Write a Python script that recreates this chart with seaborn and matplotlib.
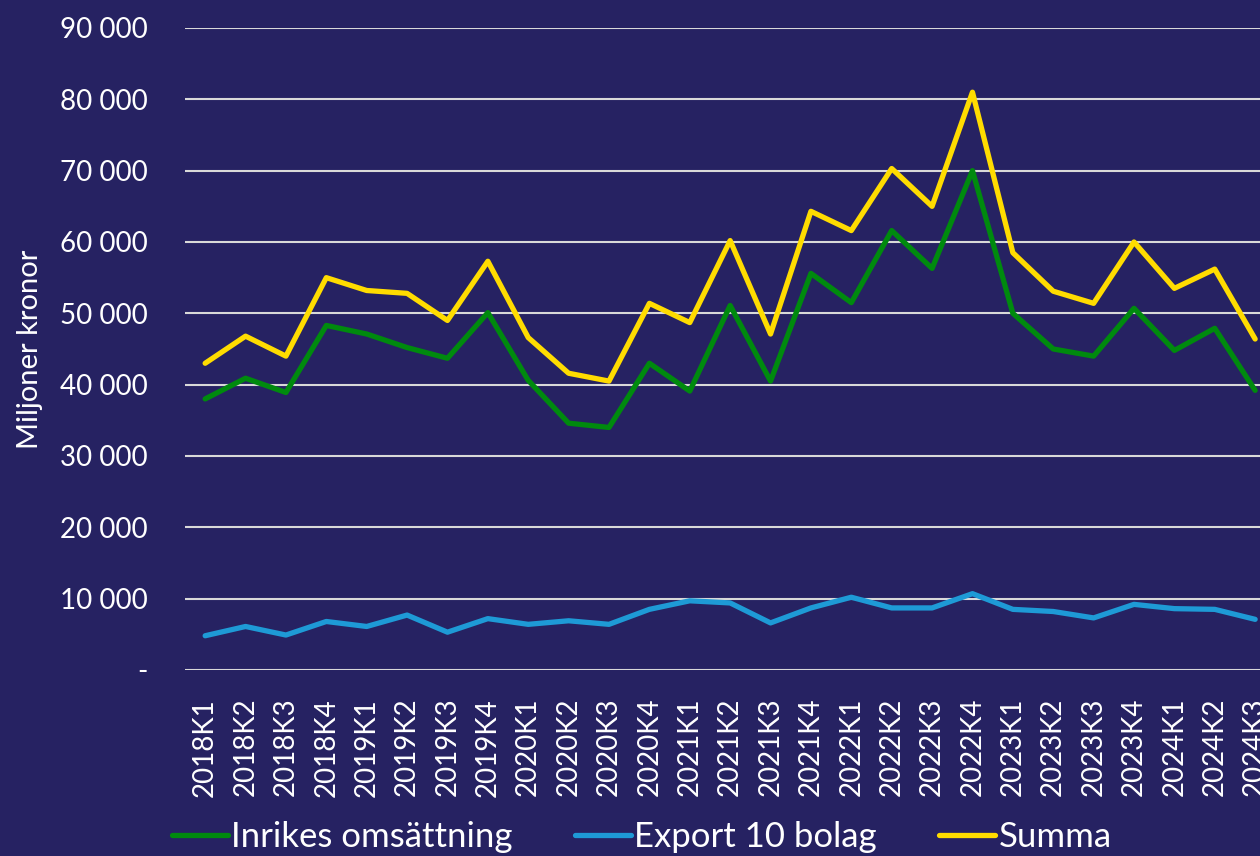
import pandas as pd
import matplotlib.pyplot as plt
import matplotlib.ticker as mticker
import seaborn as sns

quarters = [f"{y}K{q}" for y in range(2018, 2025) for q in range(1, 5)][:27]

inrikes = [38000, 40900, 38900, 48300, 47100, 45200, 43700, 50100, 40600, 34600,
           34000, 43000, 39100, 51100, 40500, 55600, 51500, 61600, 56300, 70000,
           50000, 45000, 44000, 50700, 44800, 47900, 39200]
export = [4800, 6100, 4900, 6800, 6100, 7700, 5300, 7200, 6400, 6900,
          6400, 8500, 9700, 9400, 6600, 8700, 10200, 8700, 8700, 10700,
          8500, 8200, 7300, 9200, 8600, 8500, 7100]
summa = [43000, 46800, 44000, 55000, 53200, 52800, 49000, 57300, 46600, 41600,
         40500, 51400, 48700, 60200, 47100, 64300, 61600, 70300, 65000, 81000,
         58500, 53100, 51400, 60000, 53500, 56200, 46400]

series_names = ["Inrikes omsättning", "Export 10 bolag", "Summa"]
colors = ["#008A0E", "#1E9AD6", "#FFDC00"]
bg = "#262262"

df = pd.DataFrame({"Kvartal": quarters,
                   series_names[0]: inrikes,
                   series_names[1]: export,
                   series_names[2]: summa})
long_df = df.melt(id_vars="Kvartal", var_name="Serie", value_name="Värde")

sns.set_style("dark")
plt.rcParams["font.family"] = ["Lato", "DejaVu Sans"]

fig = plt.figure(figsize=(12.6, 8.56), dpi=100, facecolor=bg)
ax = fig.add_axes([0.1468, 0.2173, 0.8532, 0.75])
ax.set_facecolor(bg)

sns.lineplot(data=long_df, x="Kvartal", y="Värde", hue="Serie",
             hue_order=series_names, palette=colors, linewidth=3.8,
             sort=False, ax=ax)

ax.set_ylim(0, 90000)
ax.set_xlim(-0.5, 26.12)
ax.yaxis.set_major_locator(mticker.MultipleLocator(10000))
ax.yaxis.set_major_formatter(mticker.FuncFormatter(
    lambda v, p: "-" if v == 0 else f"{int(v):,}".replace(",", " ")))
ax.grid(axis="y", color="#D9D9D9", linewidth=1.5)
ax.grid(axis="x", visible=False)
for s in ax.spines.values():
    s.set_visible(False)

ax.tick_params(axis="y", colors="white", labelsize=20, length=0, pad=27)
ax.tick_params(axis="x", colors="white", labelsize=20, length=0, pad=20, labelrotation=90)
ax.set_xlabel("")
ax.set_ylabel("Miljoner kronor", color="white", fontsize=21, labelpad=12)

ax.legend(loc="center", bbox_to_anchor=(0.425, -0.26), ncol=3, frameon=False,
          fontsize=25, labelcolor="white", handlelength=1.6, handletextpad=0.1,
          columnspacing=1.8)

fig.savefig("out.png", dpi=100, facecolor=bg)
